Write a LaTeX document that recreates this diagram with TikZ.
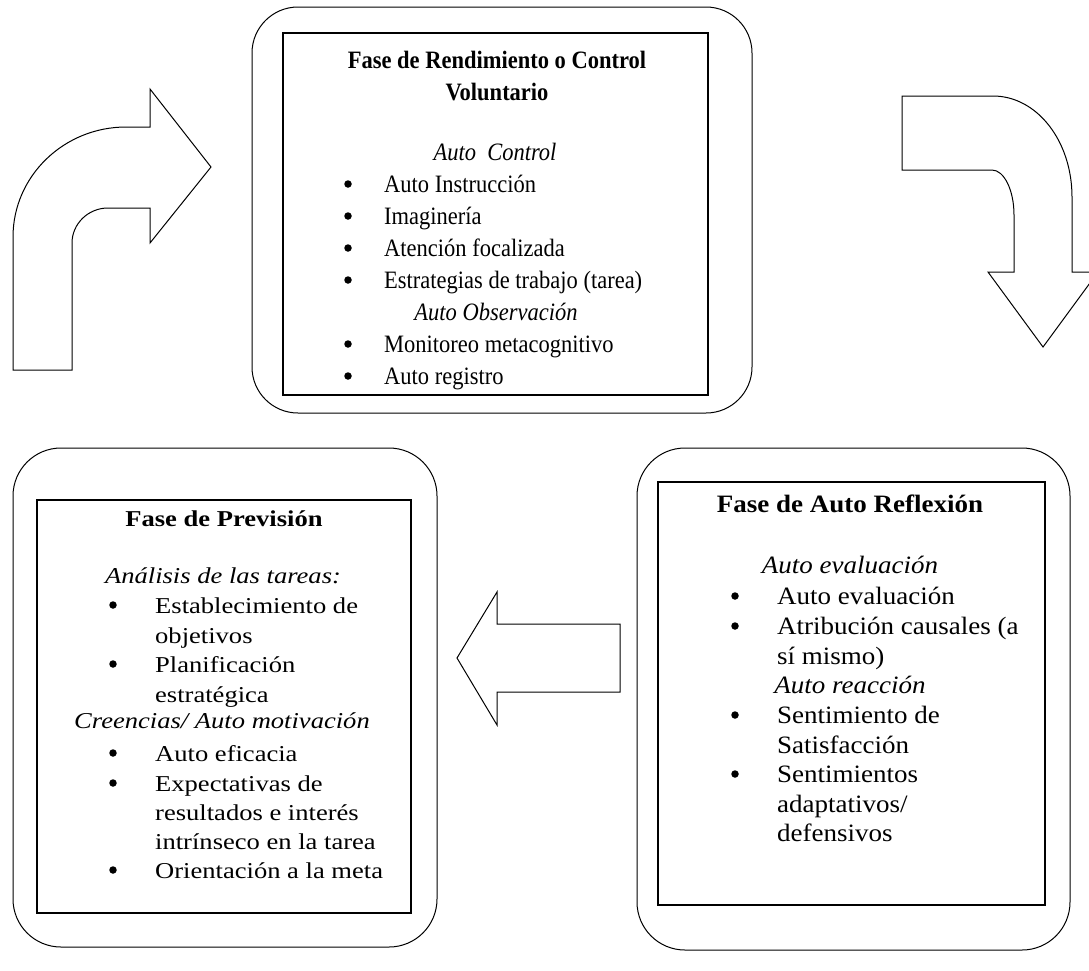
\documentclass[tikz,border=0pt]{standalone}
\usepackage{fontspec}
\setmainfont{Liberation Serif}
\newfontfamily\rendfont[FakeStretch=0.9]{Liberation Serif}
\newfontfamily\prevfont[FakeStretch=1.17]{Liberation Serif}
\newfontfamily\reflfont[FakeStretch=1.08]{Liberation Serif}
\usepackage{tikz}

\begin{document}
\begin{tikzpicture}[x=1pt, y=-1pt,
	marco/.style={draw, line width=1pt, rounded corners=46pt},
	cuadro/.style={draw, line width=1.4pt},
	flecha/.style={draw, line width=1pt},
	vineta/.style={circle, fill, inner sep=0pt, minimum size=7.5pt},
	rendtxt/.style={inner sep=0pt, font=\rendfont\fontsize{25}{30}\selectfont},
	prevtxt/.style={inner sep=0pt, font=\prevfont\fontsize{22.7}{30}\selectfont},
	refltxt/.style={inner sep=0pt, font=\reflfont\fontsize{25}{30}\selectfont}]
	\useasboundingbox (0,0) rectangle (1089,970);
	\clip (0,0) rectangle (1089,970);

	% Fase de Rendimiento o Control Voluntario
	\draw[marco] (252,7) rectangle (752,413);
	\draw[cuadro] (283,33) rectangle (708,395);
	\node[rendtxt, anchor=base] (rend-t1) at (497,68) {\bfseries Fase de Rendimiento o Control};
	\node[rendtxt, anchor=base] (rend-t2) at (497,100) {\bfseries Voluntario};
	\node[rendtxt, anchor=base] (rend-h1) at (495,160) {\itshape Auto\ \ Control};
	\node[rendtxt, anchor=base] (rend-h2) at (496,320) {\itshape Auto Observación};
	\foreach \y/\txt [count=\i] in {192/Auto Instrucción, 224/Imaginería, 256/Atención focalizada, 288/Estrategias de trabajo (tarea), 352/Monitoreo metacognitivo, 384/Auto registro}{
		\node[vineta] (rend-b\i) at (348,\y-8) {};
		\node[rendtxt, anchor=base west] (rend-i\i) at (384,\y) {\txt};
	}

	% Fase de Prevision
	\draw[marco, rounded corners=48pt] (13,448) rectangle (437,947);
	\draw[cuadro] (37,500) rectangle (411,913);
	\node[prevtxt, anchor=base] (prev-t1) at (224,526) {\bfseries Fase de Previsión};
	\node[prevtxt, anchor=base] (prev-h1) at (223,583) {\itshape Análisis de las tareas:};
	\node[prevtxt, anchor=base] (prev-h2) at (222,728) {\itshape Creencias/ Auto motivación};
	\foreach \y [count=\i] in {613,672,761,791,878}
		\node[vineta] (prev-b\i) at (113,\y-8) {};
	\foreach \y/\txt [count=\i] in {613/Establecimiento de, 643/objetivos, 672/Planificación, 702/estratégica, 761/Auto eficacia, 791/Expectativas de, 820/resultados e interés, 849/intrínseco en la tarea, 878/Orientación a la meta}
		\node[prevtxt, anchor=base west] (prev-i\i) at (155,\y) {\txt};

	% Fase de Auto Reflexion
	\draw[marco, rounded corners=48pt] (637,448) rectangle (1070,950);
	\draw[cuadro] (658,482) rectangle (1045,905);
	\node[refltxt, anchor=base] (refl-t1) at (850,512) {\bfseries Fase de Auto Reflexión};
	\node[refltxt, anchor=base] (refl-h1) at (850,573) {\itshape Auto evaluación};
	\node[refltxt, anchor=base] (refl-h2) at (850,693) {\itshape Auto reacción};
	\foreach \y [count=\i] in {604,634,723,782}
		\node[vineta] (refl-b\i) at (735,\y-8) {};
	\foreach \y/\txt [count=\i] in {604/Auto evaluación, 634/Atribución causales (a, 664/sí mismo), 723/Sentimiento de, 753/Satisfacción, 782/Sentimientos, 812/{adaptativos/}, 841/defensivos}
		\node[refltxt, anchor=base west] (refl-i\i) at (777,\y) {\txt};

	% flechas
	\draw[flecha] (13,370) -- (13,237) .. controls (13,176) and (64,127) .. (126,127) -- (150,127) -- (150,89) -- (211,167) -- (150,243) -- (150,208) -- (108,208) .. controls (88,208) and (72,224) .. (72,243) -- (72,370) -- cycle;
	\draw[flecha] (902,96) -- (993,96) .. controls (1037,96) and (1072,141) .. (1072,197) -- (1072,272) -- (1098,272) -- (1043,347) -- (988,272) -- (1014,272) -- (1014,215) .. controls (1014,190) and (1004,170) .. (992,170) -- (902,170) -- cycle;
	\draw[flecha] (620,624) -- (497,624) -- (497,592) -- (457,658) -- (497,725) -- (497,692) -- (620,692) -- cycle;
\end{tikzpicture}
\end{document}
